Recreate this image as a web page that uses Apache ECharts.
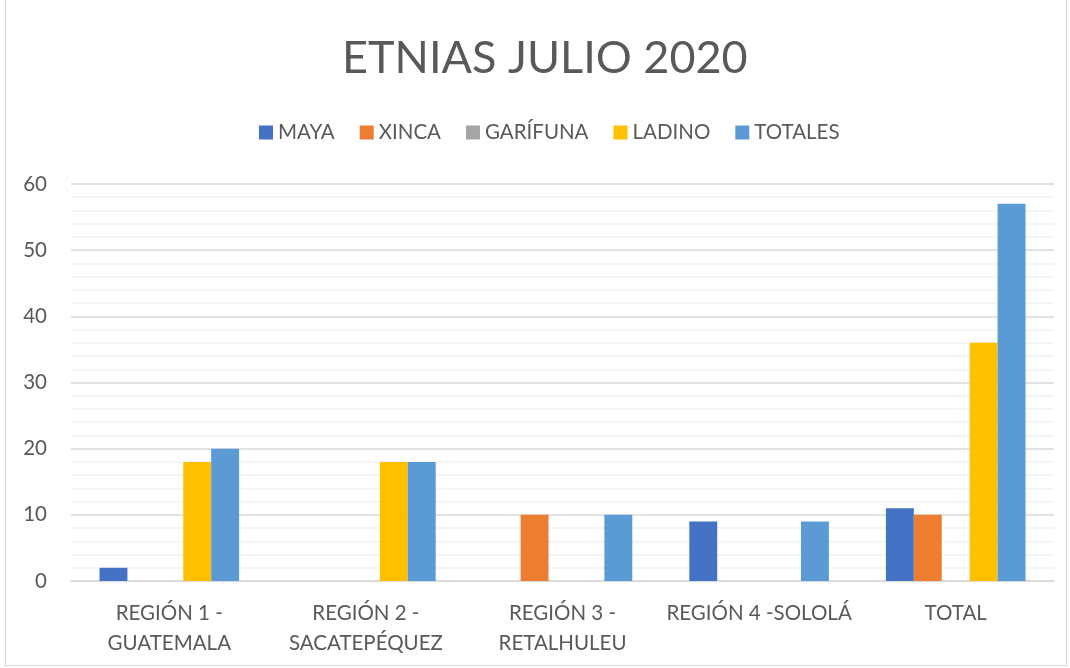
<!DOCTYPE html>
<html>
<head>
<meta charset="utf-8">
<script src="https://cdn.jsdelivr.net/npm/echarts@6/dist/echarts.min.js"></script>
<style>
  html, body { margin: 0; padding: 0; background: #fff; }
  #chart { position: absolute; left: 5px; top: 0; width: 1062px; height: 666px; border: 1px solid #d9d9d9; border-top: none; box-sizing: border-box; }
</style>
</head>
<body>
<div id="chart"></div>
<script>
var categories = ['REGIÓN 1 -\nGUATEMALA', 'REGIÓN 2 -\nSACATEPÉQUEZ', 'REGIÓN 3 -\nRETALHULEU', 'REGIÓN 4 -SOLOLÁ', 'TOTAL'];
var maya = [2, 0, 0, 9, 11];
var xinca = [0, 0, 10, 0, 10];
var garifuna = [0, 0, 0, 0, 0];
var ladino = [18, 18, 0, 0, 36];
var totales = [20, 18, 10, 9, 57];

var seriesNames = ['MAYA', 'XINCA', 'GARÍFUNA', 'LADINO', 'TOTALES'];
var seriesData = [maya, xinca, garifuna, ladino, totales];
var colors = ['#4472c4', '#ed7d31', '#a5a5a5', '#ffc000', '#5b9bd5'];

var chart = echarts.init(document.getElementById('chart'));
var font = 'Lato, "Open Sans", sans-serif';

var series = [];
for (var i = 0; i < seriesNames.length; i++) {
    series.push({
        name: seriesNames[i],
        type: 'bar',
        data: seriesData[i],
        barGap: '0%',
        barCategoryGap: '29%',
        itemStyle: { color: colors[i] }
    });
}

chart.setOption({
    color: colors,
    animation: false,
    title: {
        text: 'ETNIAS JULIO 2020',
        left: 331,
        top: 31,
        textStyle: { fontFamily: font, fontSize: 45, fontWeight: 'normal', color: '#595959' }
    },
    legend: {
        top: 117,
        left: 248,
        itemWidth: 14,
        itemHeight: 14,
        itemGap: 25,
        icon: 'rect',
        textStyle: { fontFamily: font, fontSize: 20.5, color: '#595959' }
    },
    grid: { left: 65, right: 12, top: 184, bottom: 84 },
    xAxis: {
        type: 'category',
        data: categories,
        axisTick: { show: false },
        axisLine: { lineStyle: { color: '#d9d9d9', width: 1.5 } },
        axisLabel: { fontFamily: font, fontSize: 20.5, color: '#595959', margin: 17, lineHeight: 30, interval: 0 }
    },
    yAxis: {
        type: 'value',
        min: 0,
        max: 60,
        interval: 10,
        axisLabel: { fontFamily: font, fontSize: 20.5, color: '#595959', margin: 24 },
        splitLine: { lineStyle: { color: '#d9d9d9', width: 1.5 } },
        minorTick: { show: false, splitNumber: 5 },
        minorSplitLine: { show: true, lineStyle: { color: '#f2f2f2', width: 1.5 } }
    },
    series: series
});
</script>
</body>
</html>
